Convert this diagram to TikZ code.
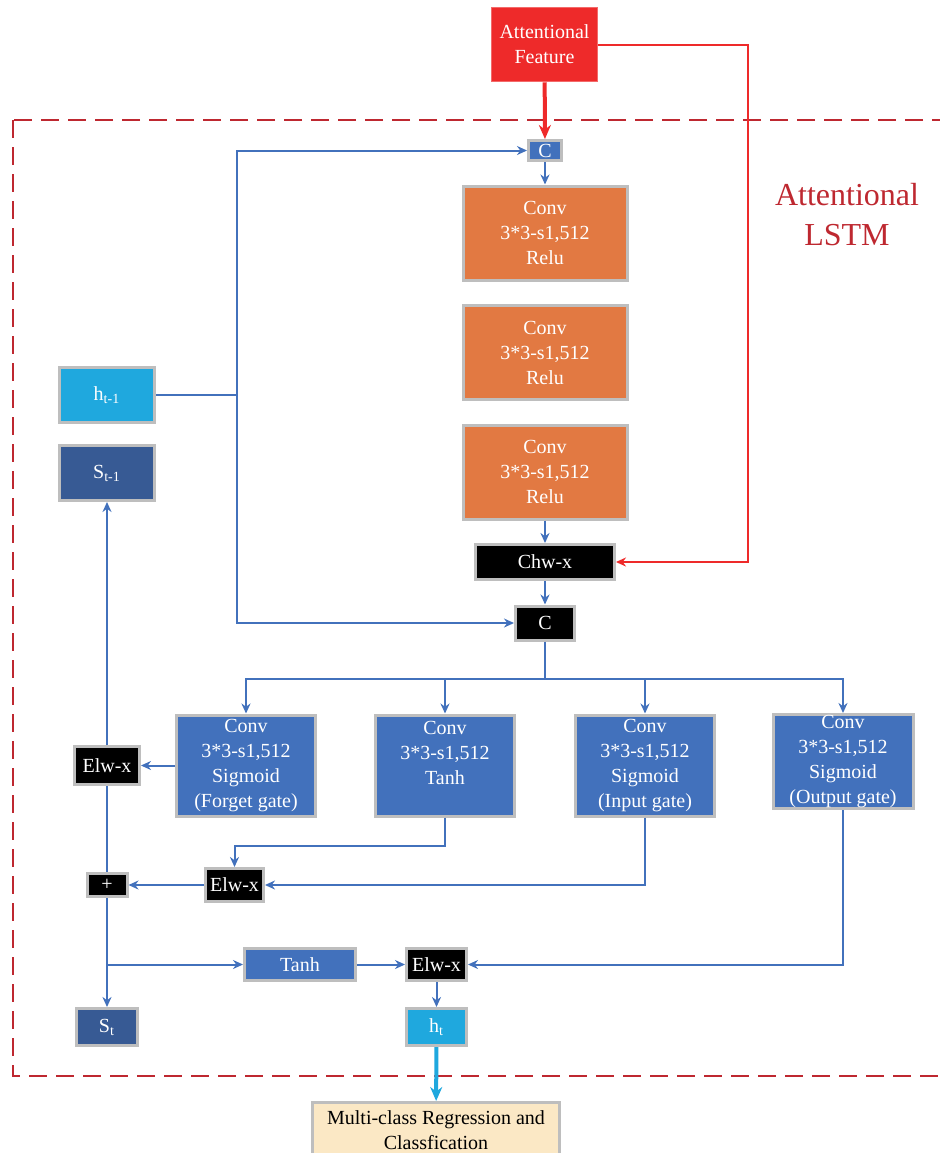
\documentclass[tikz,border=0pt]{standalone}
\usepackage{fontspec}
\setmainfont{Liberation Serif}
\usepackage{xcolor}
\usepackage{tikz}
\usetikzlibrary{
	arrows,
	arrows.meta,
	calc,
	positioning
}
\definecolor{lgray}{RGB}{190, 190, 190}
\definecolor{convorange}{RGB}{226, 121, 66}
\definecolor{gateblue}{RGB}{66, 113, 188}
\definecolor{hcyan}{RGB}{31, 168, 222}
\definecolor{sblue}{RGB}{55, 90, 148}
\definecolor{featred}{RGB}{238, 42, 42}
\definecolor{lstmred}{RGB}{190, 40, 48}
\definecolor{outcream}{RGB}{251, 232, 197}
\tikzstyle{every picture}+=[>={Stealth[length=5pt,width=4.5pt]}]
\tikzstyle{box}=[draw=lgray, line width=1.5pt, inner sep=0pt, text=white, align=center,
	font=\fontsize{10}{12.5}\selectfont]
\tikzstyle{convbox}=[box, fill=convorange, minimum width=82pt, minimum height=47pt]
\tikzstyle{gatebox}=[box, fill=gateblue, minimum width=69.5pt, minimum height=50.5pt]
\tikzstyle{opbox}=[box, fill=black]
\tikzstyle{flow}=[draw=gateblue, line width=1pt]
\tikzstyle{attn}=[draw=featred, line width=1pt]

\begin{document}
\begin{tikzpicture}[x=0.5pt, y=-0.5pt]
	\useasboundingbox (0,0) rectangle (939,1153);

	% Outer frame
		\draw[lstmred, line width=1pt, dash pattern=on 9pt off 4.5pt] (13,120) rectangle (970,1076);
		\node[text=lstmred, align=center, font=\fontsize{16}{20}\selectfont] (lstmLabel) at (847,215) {Attentional\\LSTM};

	% Attention branch
		\node[fill=featred, draw=featred!70!white, line width=0.75pt, inner sep=0pt, minimum width=53pt,
			minimum height=37pt, text=white, align=center, font=\fontsize{10}{12.5}\selectfont]
			(feat) at (544.5,44.5) {Attentional\\Feature};
		\node[box, fill=gateblue, minimum width=16.5pt, minimum height=10pt] (catTop) at (545,150.5) {C};
		\node[convbox] (conv1) at (545,233) {Conv\\3*3-s1,512\\Relu};
		\node[convbox] (conv2) at (545,352.5) {Conv\\3*3-s1,512\\Relu};
		\node[convbox] (conv3) at (545,472) {Conv\\3*3-s1,512\\Relu};
		\node[opbox, minimum width=69.5pt, minimum height=17.5pt] (chw) at (545,562) {Chw-x};
		\node[opbox, minimum width=29.5pt, minimum height=17pt] (catBot) at (545,623) {C};

	% Previous states
		\node[box, fill=hcyan, minimum width=47.5pt, minimum height=27.5pt] (hPrev) at (107,395) {h\textsubscript{t-1}};
		\node[box, fill=sblue, minimum width=47.5pt, minimum height=27.5pt] (sPrev) at (107,473) {S\textsubscript{t-1}};

	% Gates
		\node[gatebox] (forgetGate) at (246,765.5) {Conv\\3*3-s1,512\\Sigmoid\\(Forget gate)};
		\node[gatebox] (tanhGate) at (445,765.5) {Conv\\3*3-s1,512\\Tanh\\~};
		\node[gatebox] (inputGate) at (645,765.5) {Conv\\3*3-s1,512\\Sigmoid\\(Input gate)};
		\node[gatebox, minimum width=70pt, minimum height=47pt] (outputGate) at (843,761.5) {Conv\\3*3-s1,512\\Sigmoid\\(Output gate)};

	% Cell update
		\node[opbox, minimum width=32.5pt, minimum height=19pt] (elwForget) at (107,765.5) {Elw-x};
		\node[opbox, minimum width=20pt, minimum height=11.5pt] (plus) at (107,885) {+};
		\node[opbox, minimum width=29pt, minimum height=16.5pt] (elwInput) at (234.5,885) {Elw-x};
		\node[box, fill=gateblue, minimum width=55.5pt, minimum height=16pt] (tanhCell) at (300,964.5) {Tanh};
		\node[opbox, minimum width=30pt, minimum height=16pt] (elwOutput) at (436.5,964.5) {Elw-x};
		\node[box, fill=sblue, minimum width=30.5pt, minimum height=18.5pt] (sNow) at (107,1027) {S\textsubscript{t}};
		\node[box, fill=hcyan, minimum width=30pt, minimum height=18.5pt] (hNow) at (436.5,1027) {h\textsubscript{t}};

	% Output
		\node[box, fill=outcream, text=black, minimum width=123.5pt, minimum height=27.5pt] (result) at (436,1130)
			{Multi-class Regression and\\Classfication};

	% Connectors
		\coordinate (redTurn) at (748,0);
		\coordinate (hSplit) at (237,395);
		\coordinate (gateSplit) at (545,679);
		\coordinate (tanhTurn) at (445,846);
		\coordinate (sSplit) at (107,964.5);

		\draw[attn, line width=2pt, -{Stealth[length=7pt,width=6pt]}] (feat) -- (catTop);
		\draw[attn, ->] (feat.east) -- (feat.east -| redTurn) |- (chw.east);

		\draw[flow] (hPrev) -- (hSplit);
		\draw[flow, ->] (hSplit) |- (catTop);
		\draw[flow, ->] (hSplit) |- (catBot);
		\draw[flow, ->] (catTop) -- (conv1);
		\draw[flow, ->] (conv3) -- (chw);
		\draw[flow, ->] (chw) -- (catBot);

		\draw[flow] (catBot) -- (gateSplit);
		\foreach \g in {forgetGate, tanhGate, inputGate, outputGate} {
			\draw[flow, ->] (gateSplit) -| (\g);
		}

		\draw[flow, ->] (forgetGate) -- (elwForget);
		\draw[flow, ->] (elwForget) -- (sPrev);
		\draw[flow] (elwForget) -- (plus);
		\draw[flow, ->] (tanhGate) -- (tanhTurn) -| (elwInput);
		\draw[flow, ->] (inputGate) |- (elwInput);
		\draw[flow, ->] (elwInput) -- (plus);
		\draw[flow, ->] (plus) -- (sNow);
		\draw[flow, ->] (sSplit) -- (tanhCell);
		\draw[flow, ->] (tanhCell) -- (elwOutput);
		\draw[flow, ->] (outputGate) |- (elwOutput);
		\draw[flow, ->] (elwOutput) -- (hNow);
		\draw[draw=hcyan, line width=2pt, -{Stealth[length=7pt,width=6pt]}] (hNow) -- (result);
\end{tikzpicture}
\end{document}
